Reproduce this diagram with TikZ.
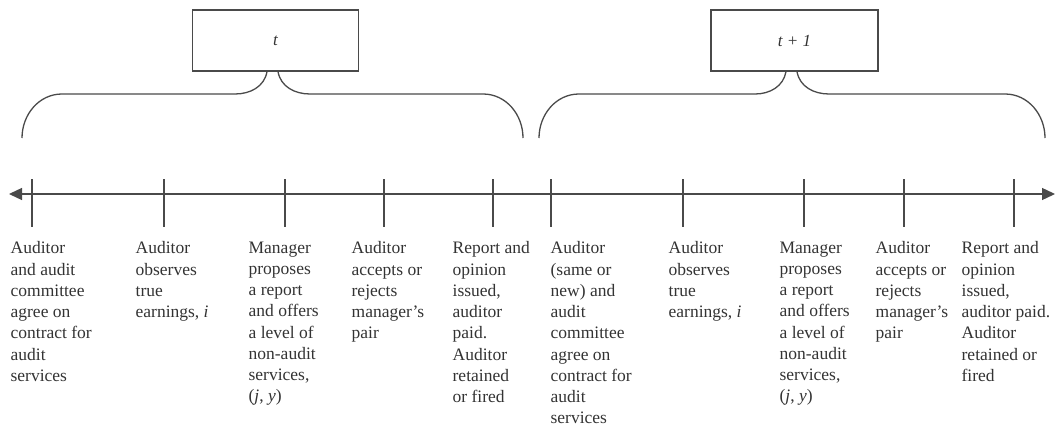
\documentclass[tikz,border=0pt]{standalone}
\usepackage{fontspec}
\setmainfont{Liberation Serif}
\usetikzlibrary{arrows.meta}
\definecolor{ink}{HTML}{4A4A4A}
\definecolor{txt}{HTML}{333333}
\tikzset{every picture/.style={line width=1.3pt, color=ink}}
\tikzset{period box/.style={draw, minimum width=166pt, minimum height=61pt, inner sep=0pt, text=txt, font=\fontsize{17}{20}\selectfont\itshape}}
\tikzset{event label/.style={anchor=north west, align=left, inner sep=0pt, text=txt, font=\fontsize{17.5}{21.25}\selectfont}}
\tikzset{tip/.style={-{Triangle[length=13pt,width=12pt]}}}
\newcommand{\notch}[1]{(#1,253) -- (#1,205)}

\begin{document}
\begin{tikzpicture}[x=1pt, y=1pt]
    \useasboundingbox (0,0) rectangle (1059,432);
    \node[period box] (pt) at (275.5,391.5) {t};
    \node[period box, minimum width=167pt] (ptt) at (794.5,391.5) {t + 1};

    % braces under the two periods
    \draw ([xshift=-8.5pt]pt.south) to[out=-100,in=0] (235,338) -- (62,338) to[out=180,in=90] (22,294);
    \draw ([xshift=2.5pt]pt.south) to[out=-80,in=180] (310,338) -- (483,338) to[out=0,in=90] (523,294);
    \draw ([xshift=-8.5pt]ptt.south) to[out=-100,in=0] (755,338) -- (579,338) to[out=180,in=90] (539,294);
    \draw ([xshift=2.5pt]ptt.south) to[out=-80,in=180] (829,338) -- (1005,338) to[out=0,in=90] (1045,294);

    % time line
    \coordinate (first) at (9,238);
    \coordinate (last) at (1055,238);
    \draw[tip] (532,238) -- (last);
    \draw[tip] (532,238) -- (first);
    \draw \notch{32} \notch{164} \notch{285} \notch{384} \notch{493}
          \notch{551} \notch{683} \notch{804} \notch{904} \notch{1014};

    \node[event label] (e1) at (10,191) {Auditor\\and audit\\committee\\agree on\\contract for\\audit\\services};
    \node[event label] (e2) at (135,191) {Auditor\\observes\\true\\earnings, \textit{i}};
    \node[event label] (e3) at (248,191) {Manager\\proposes\\a report\\and offers\\a level of\\non-audit\\services,\\(\textit{j}, \textit{y})};
    \node[event label] (e4) at (351,191) {Auditor\\accepts or\\rejects\\manager’s\\pair};
    \node[event label] (e5) at (452,191) {Report and\\opinion\\issued,\\auditor\\paid.\\Auditor\\retained\\or fired};
    \node[event label] (e6) at (550,191) {Auditor\\(same or\\new) and\\audit\\committee\\agree on\\contract for\\audit\\services};
    \node[event label] (e7) at (668,191) {Auditor\\observes\\true\\earnings, \textit{i}};
    \node[event label] (e8) at (779,191) {Manager\\proposes\\a report\\and offers\\a level of\\non-audit\\services,\\(\textit{j}, \textit{y})};
    \node[event label] (e9) at (875,191) {Auditor\\accepts or\\rejects\\manager’s\\pair};
    \node[event label] (e10) at (961,191) {Report and\\opinion\\issued,\\auditor paid.\\Auditor\\retained or\\fired};
\end{tikzpicture}
\end{document}
